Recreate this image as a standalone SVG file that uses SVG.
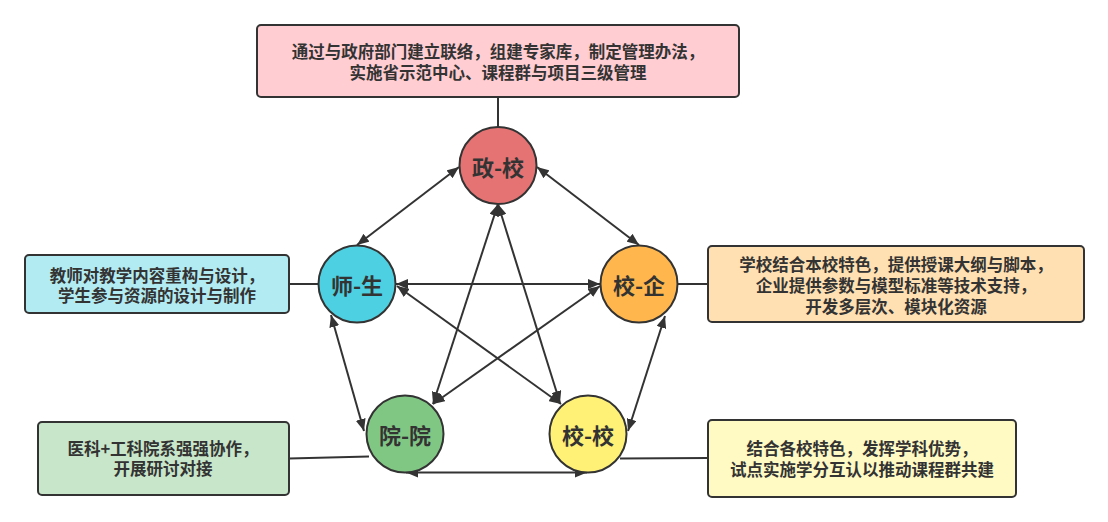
<svg xmlns="http://www.w3.org/2000/svg" width="1108" height="522" viewBox="0 0 1108 522">
<style>
.box{stroke:#333;stroke-width:2}
.circ{stroke:#333;stroke-width:2}
.t{font-family:"Noto Sans CJK SC","Noto Sans",sans-serif;font-weight:bold;font-size:16.5px;fill:#333;text-anchor:middle;dominant-baseline:central}
.ct{font-family:"Noto Sans CJK SC","Noto Sans",sans-serif;font-weight:bold;font-size:22px;fill:#333;text-anchor:middle;dominant-baseline:central}
.ln{stroke:#333;stroke-width:2;fill:none}
.ar{stroke:#333;stroke-width:2;fill:none;marker-start:url(#ah);marker-end:url(#ah)}
</style>
<defs>
<marker id="ah" viewBox="0 0 12 10" refX="12" refY="5" markerWidth="12" markerHeight="10" markerUnits="userSpaceOnUse" orient="auto-start-reverse">
<path d="M0,0 L12,5 L0,10 z" fill="#333"/>
</marker>
</defs>
<rect width="1108" height="522" fill="#fff"/>
<g id="connectors">
<line class="ln" x1="498" y1="97" x2="498" y2="127"/>
<line class="ln" x1="289" y1="284" x2="318.5" y2="284"/>
<line class="ln" x1="677.5" y1="284" x2="708" y2="284"/>
<line class="ln" x1="289" y1="458.5" x2="369" y2="456.5"/>
<line class="ln" x1="620" y1="458.5" x2="708" y2="458"/>
<line class="ar" x1="459" y1="167" x2="357" y2="245"/>
<line class="ar" x1="537" y1="167" x2="639" y2="245"/>
<line class="ar" x1="498" y1="204" x2="433" y2="404"/>
<line class="ar" x1="498" y1="204" x2="560" y2="403"/>
<line class="ar" x1="396" y1="284" x2="600" y2="284"/>
<line class="ar" x1="397" y1="286" x2="561" y2="404"/>
<line class="ar" x1="600" y1="286" x2="433" y2="404"/>
<line class="ar" x1="331" y1="315" x2="364" y2="431"/>
<line class="ar" x1="665" y1="316" x2="628" y2="431"/>
<line class="ar" x1="406" y1="472.5" x2="587" y2="472.5"/>
</g>
<g id="box-top">
<rect class="box" x="257" y="25" width="482" height="72" rx="4" fill="#FFCDD2"/>
<text class="t" x="498" y="51">通过与政府部门建立联络，组建专家库，制定管理办法，</text>
<text class="t" x="498" y="72">实施省示范中心、课程群与项目三级管理</text>
</g>
<g id="box-cyan">
<rect class="box" x="25" y="255" width="264" height="58" rx="4" fill="#B2EBF2"/>
<text class="t" x="157" y="275">教师对教学内容重构与设计，</text>
<text class="t" x="157" y="295">学生参与资源的设计与制作</text>
</g>
<g id="box-green">
<rect class="box" x="38" y="422" width="251" height="73" rx="4" fill="#C8E6C9"/>
<text class="t" x="163" y="448">医科+工科院系强强协作，</text>
<text class="t" x="163" y="468">开展研讨对接</text>
</g>
<g id="box-orange">
<rect class="box" x="708" y="246" width="376" height="76" rx="4" fill="#FFE0B2"/>
<text class="t" x="896" y="264">学校结合本校特色，提供授课大纲与脚本，</text>
<text class="t" x="896" y="285">企业提供参数与模型标准等技术支持，</text>
<text class="t" x="896" y="306">开发多层次、模块化资源</text>
</g>
<g id="box-yellow">
<rect class="box" x="708" y="420" width="308" height="77" rx="4" fill="#FFF9C4"/>
<text class="t" x="862" y="448">结合各校特色，发挥学科优势，</text>
<text class="t" x="862" y="469">试点实施学分互认以推动课程群共建</text>
</g>
<g id="node-zhengxiao">
<circle class="circ" cx="498" cy="165.5" r="38.5" fill="#E57373"/>
<text class="ct" x="498" y="165.5">政-校</text>
</g>
<g id="node-shisheng">
<circle class="circ" cx="357" cy="284" r="38.5" fill="#4DD0E1"/>
<text class="ct" x="357" y="284">师-生</text>
</g>
<g id="node-xiaoqi">
<circle class="circ" cx="639" cy="284" r="38.5" fill="#FFB74D"/>
<text class="ct" x="639" y="284">校-企</text>
</g>
<g id="node-yuanyuan">
<circle class="circ" cx="405" cy="434" r="38.5" fill="#81C784"/>
<text class="ct" x="405" y="434">院-院</text>
</g>
<g id="node-xiaoxiao">
<circle class="circ" cx="588" cy="434" r="38.5" fill="#FFF176"/>
<text class="ct" x="588" y="434">校-校</text>
</g>
</svg>
